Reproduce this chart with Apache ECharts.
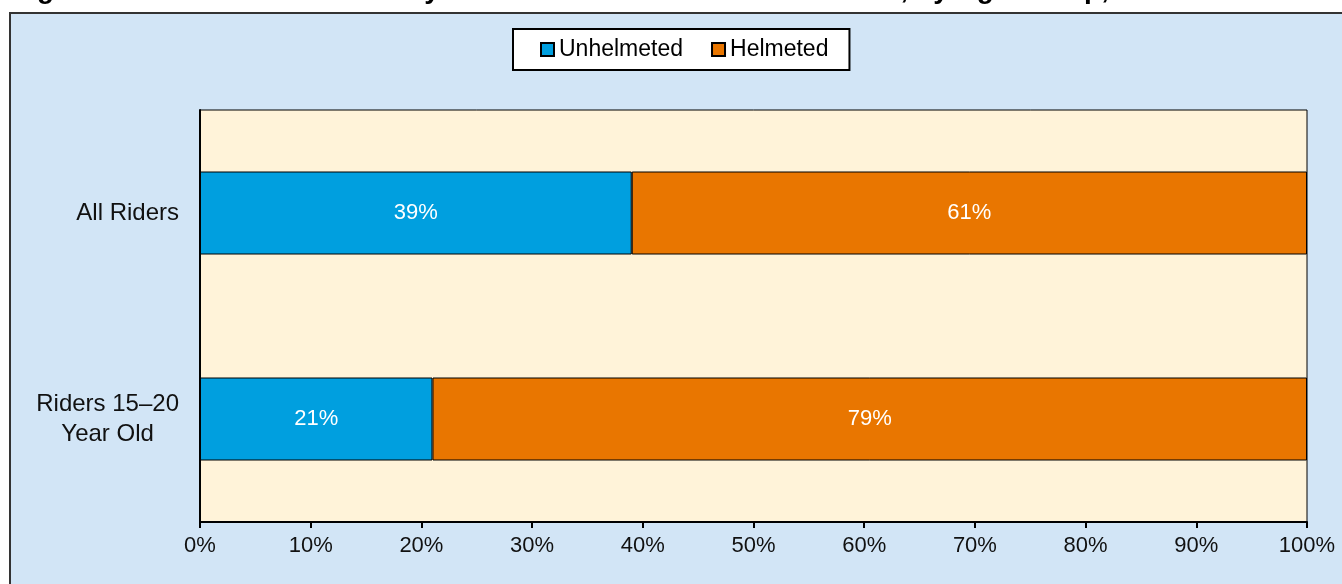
<!DOCTYPE html>
<html>
<head>
<meta charset="utf-8">
<script src="https://cdn.jsdelivr.net/npm/echarts@6/dist/echarts.min.js"></script>
<style>
html,body{margin:0;padding:0;background:#fff;}
#c{width:1342px;height:584px;}
</style>
</head>
<body>
<div id="c"></div>
<script>
const categories = ['All Riders', 'Riders 15–20 Year Old'];
const unhelmeted = [39, 21];
const helmeted = [61, 79];
const xTicks = [0, 10, 20, 30, 40, 50, 60, 70, 80, 90, 100];
const titleText = 'Figure 3. Helmet Use of Motorcycle Riders Killed in Traffic Crashes, by Age Group, 2008';

const chart = echarts.init(document.getElementById('c'));
const FONT = 'Liberation Sans, Arial, sans-serif';
chart.setOption({
  animation: false,
  textStyle: { fontFamily: FONT },
  graphic: [
    { type: 'rect', z: -10, shape: { x: 10, y: 13, width: 1340, height: 580 },
      style: { fill: '#D2E5F6', stroke: '#333', lineWidth: 2 } },
    { type: 'text', z: -11, x: 12, y: -24,
      style: { text: titleText, font: 'bold 28px ' + FONT, fill: '#000' } }
  ],
  legend: {
    left: 513, top: 29,
    padding: [9, 21, 9, 27],
    backgroundColor: '#fff',
    borderColor: '#000', borderWidth: 2,
    itemWidth: 13, itemHeight: 13, itemGap: 28,
    icon: 'rect',
    textStyle: { fontSize: 23, color: '#000', fontFamily: FONT },
    data: ['Unhelmeted', 'Helmeted']
  },
  grid: {
    left: 200, right: 35, top: 110, bottom: 62,
    show: true, backgroundColor: '#FFF3D9', borderColor: '#000', borderWidth: 1
  },
  xAxis: {
    type: 'value', min: 0, max: 100, interval: 10,
    axisLine: { show: true, lineStyle: { color: '#000', width: 2 } },
    axisTick: { show: true, length: 6, lineStyle: { color: '#000', width: 2 } },
    splitLine: { show: false },
    axisLabel: { fontSize: 22, color: '#111', margin: 13, fontFamily: FONT,
      formatter: v => xTicks.includes(v) ? v + '%' : '' }
  },
  yAxis: {
    type: 'category', inverse: true, data: categories,
    axisLine: { show: true, lineStyle: { color: '#000', width: 2 } },
    axisTick: { show: false },
    axisLabel: {
      fontSize: 24, color: '#111', margin: 21, align: 'right', lineHeight: 30, fontFamily: FONT,
      formatter: v => {
        if (v === 'Riders 15–20 Year Old') return '{c|Riders 15–20}\n{c|Year Old}';
        return '{c|' + v + '}';
      },
      rich: { c: { fontSize: 24, color: '#111', align: 'center', lineHeight: 30, fontFamily: FONT } }
    }
  },
  series: [
    { name: 'Unhelmeted', type: 'bar', stack: 'a', barWidth: 83, data: unhelmeted,
      itemStyle: { color: '#009FDF', borderColor: '#000', borderWidth: 1 },
      label: { show: true, position: 'inside', color: '#fff', fontSize: 22, fontFamily: FONT, formatter: '{c}%' } },
    { name: 'Helmeted', type: 'bar', stack: 'a', barWidth: 83, data: helmeted,
      itemStyle: { color: '#E97600', borderColor: '#000', borderWidth: 1 },
      label: { show: true, position: 'inside', color: '#fff', fontSize: 22, fontFamily: FONT, formatter: '{c}%' } }
  ]
});
</script>
</body>
</html>
